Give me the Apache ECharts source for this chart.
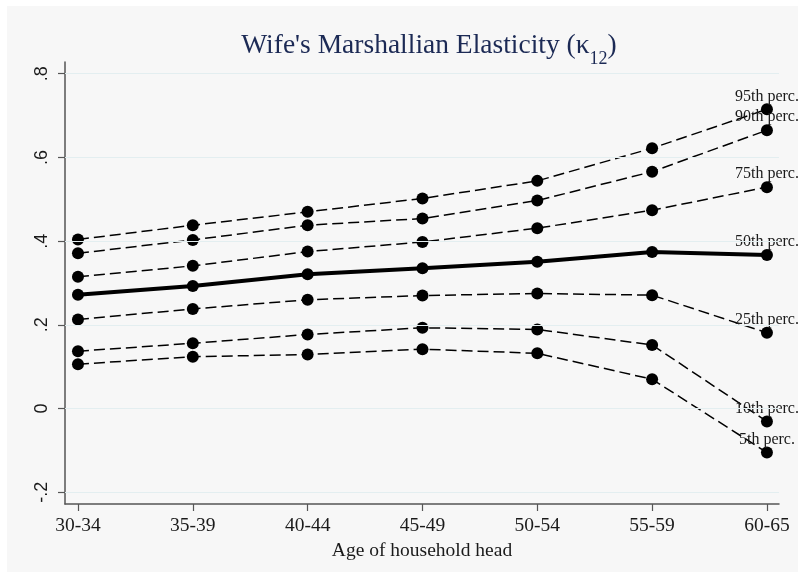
<!DOCTYPE html>
<html>
<head>
<meta charset="utf-8">
<script src="https://cdn.jsdelivr.net/npm/echarts@6/dist/echarts.min.js"></script>
<style>
  html, body { margin: 0; padding: 0; background: #ffffff; }
  #frame { position: absolute; left: 7px; top: 6px; right: 0; bottom: 7px; background: #f7f7f7; }
  #chart { position: absolute; left: 0; top: 0; width: 798px; height: 579px; }
</style>
</head>
<body>
<div id="frame"></div>
<div id="chart"></div>
<script>
// Age groups of the household head
const categories = ['30-34', '35-39', '40-44', '45-49', '50-54', '55-59', '60-65'];

// Percentiles of the wife's Marshallian elasticity by age group
const p95 = [0.404, 0.438, 0.470, 0.502, 0.544, 0.622, 0.715];
const p90 = [0.371, 0.403, 0.438, 0.454, 0.497, 0.566, 0.665];
const p75 = [0.315, 0.341, 0.375, 0.398, 0.431, 0.474, 0.529];
const p50 = [0.272, 0.293, 0.321, 0.335, 0.351, 0.374, 0.367];
const p25 = [0.213, 0.238, 0.260, 0.270, 0.275, 0.271, 0.181];
const p10 = [0.137, 0.156, 0.177, 0.193, 0.189, 0.152, -0.031];
const p5  = [0.106, 0.124, 0.129, 0.142, 0.132, 0.070, -0.105];

// Y axis ticks and their labels
const yTickValues = [-0.2, 0, 0.2, 0.4, 0.6, 0.8];
const yTickLabels = ['-.2', '0', '.2', '.4', '.6', '.8'];

const percentileSeries = [
  { name: '95th perc.', values: p95, median: false },
  { name: '90th perc.', values: p90, median: false },
  { name: '75th perc.', values: p75, median: false },
  { name: '50th perc.', values: p50, median: true },
  { name: '25th perc.', values: p25, median: false },
  { name: '10th perc.', values: p10, median: false },
  { name: '5th perc.',  values: p5,  median: false }
];

const serif = '"Liberation Serif", "Times New Roman", serif';
const sans = '"Liberation Sans", Arial, sans-serif';
const last = categories.length - 1;

const series = percentileSeries.map((s, k) => ({
  type: 'line',
  name: s.name,
  data: s.values.map((v, i) => i === last
    ? { value: [i, v], label: { show: true } }
    : { value: [i, v] }),
  symbol: 'circle',
  symbolSize: 12,
  itemStyle: { color: '#000000' },
  lineStyle: s.median
    ? { color: '#000000', width: 4, type: 'solid' }
    : { color: '#000000', width: 1.5, type: [11, 5] },
  label: {
    show: false,
    position: 'top',
    distance: -1,
    formatter: () => s.name,
    fontFamily: serif,
    fontSize: 16,
    color: '#1a1a1a'
  },
  animation: false,
  z: 3,
  markLine: k === 0 ? {
    silent: true,
    symbol: 'none',
    label: { show: false },
    lineStyle: { color: '#e3eef0', width: 1, type: 'solid' },
    data: yTickValues.map(v => ({ yAxis: v })),
    animation: false
  } : undefined
}));

const chart = echarts.init(document.getElementById('chart'), null, { renderer: 'canvas' });
chart.setOption({
  backgroundColor: 'transparent',
  animation: false,
  title: {
    text: "Wife's Marshallian Elasticity (κ{sub|12})",
    left: 424,
    textAlign: 'center',
    top: 27,
    textStyle: {
      fontFamily: serif,
      fontSize: 27.5,
      fontWeight: 'normal',
      color: '#1c2a55',
      rich: {
        sub: { fontFamily: serif, fontSize: 18, color: '#1c2a55', verticalAlign: 'bottom', padding: [0, 0, -8, 0] }
      }
    }
  },
  grid: { left: 65, right: 19, top: 62, bottom: 75, containLabel: false },
  xAxis: {
    type: 'value',
    min: -0.113,
    max: 6.105,
    splitLine: { show: false },
    axisLine: { show: true, onZero: false, lineStyle: { color: '#555555', width: 1.5 } },
    axisTick: { show: true, length: 7, customValues: categories.map((c, i) => i), lineStyle: { color: '#555555', width: 1.2 } },
    axisLabel: {
      customValues: categories.map((c, i) => i),
      formatter: v => categories[Math.round(v)],
      margin: 12,
      fontFamily: serif,
      fontSize: 19.5,
      color: '#1a1a1a'
    },
    name: 'Age of household head',
    nameLocation: 'middle',
    nameGap: 34,
    nameTextStyle: { fontFamily: serif, fontSize: 19.5, color: '#1a1a1a' }
  },
  yAxis: {
    type: 'value',
    min: -0.228,
    max: 0.828,
    splitLine: { show: false },
    axisLine: { show: true, onZero: false, lineStyle: { color: '#555555', width: 1.5 } },
    axisTick: { show: true, length: 7, customValues: yTickValues, lineStyle: { color: '#555555', width: 1.2 } },
    axisLabel: {
      customValues: yTickValues,
      formatter: v => {
        const idx = yTickValues.findIndex(t => Math.abs(t - v) < 1e-6);
        return idx >= 0 ? yTickLabels[idx] : '';
      },
      rotate: 90,
      margin: 14,
      fontFamily: sans,
      fontSize: 18,
      color: '#1a1a1a'
    }
  },
  series: series
});
</script>
</body>
</html>
